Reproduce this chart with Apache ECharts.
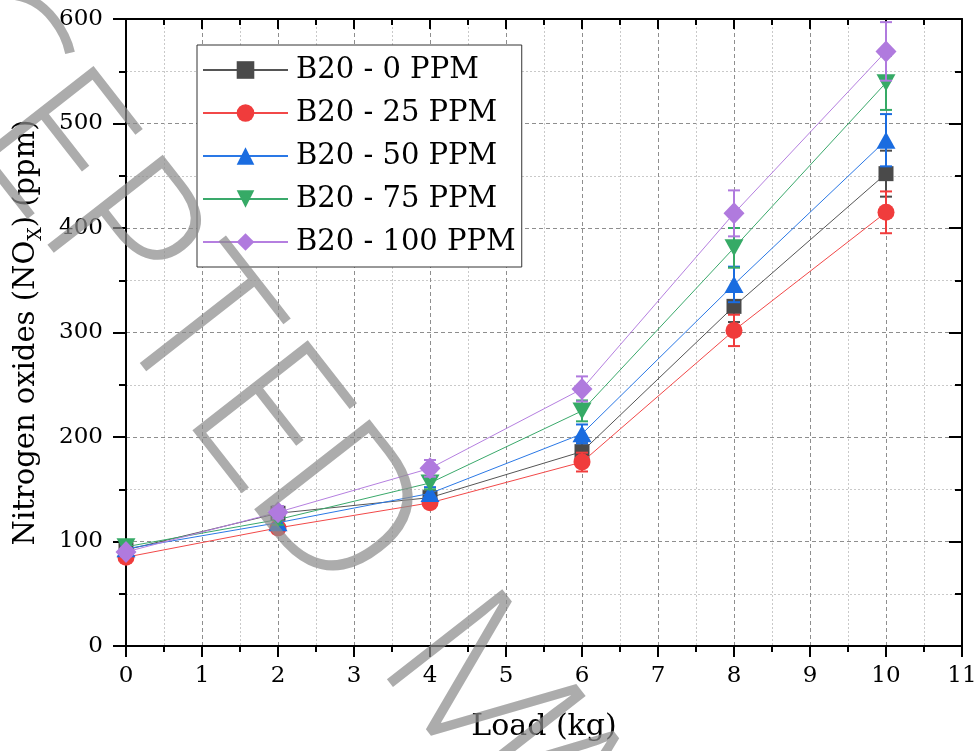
<!DOCTYPE html>
<html><head><meta charset="utf-8">
<script src="https://cdn.jsdelivr.net/npm/echarts@6/dist/echarts.min.js"></script>
<style>html,body{margin:0;padding:0;background:#fff}#c{width:977px;height:751px}</style>
</head><body><div id="c"></div>
<script>
// ---- data ----
const loads = [0, 2, 4, 6, 8, 10];
const seriesNames = ['B20 - 0 PPM', 'B20 - 25 PPM', 'B20 - 50 PPM', 'B20 - 75 PPM', 'B20 - 100 PPM'];
const nox0   = [92, 127, 142, 186, 325, 452];
const nox25  = [85, 113, 137, 176, 302, 415];
const nox50  = [93, 118, 146, 203, 346, 484];
const nox75  = [95, 121, 156, 225, 381, 539];
const nox100 = [90, 128, 170, 246, 414, 569];
const err0   = [4, 5, 5, 8, 15, 22];
const err25  = [4, 5, 5, 9, 15, 20];
const err50  = [4, 5, 6, 9, 17, 25];
const err75  = [4, 5, 6, 10, 19, 26];
const err100 = [4, 6, 8, 12, 22, 28];
const xTickLabels = ['0','1','2','3','4','5','6','7','8','9','10','11'];
const yTickLabels = ['0','100','200','300','400','500','600'];
const watermarkWords = ['ACCEPTED', 'MANUSCRIPT'];

// ---- styles ----
const values = [nox0, nox25, nox50, nox75, nox100];
const errors = [err0, err25, err50, err75, err100];
const markerColors = ['#4a4a4a', '#f03c3c', '#1a6ce0', '#36aa66', '#b07ade'];
const lineColors   = ['#555555', '#f24848', '#2a78e6', '#3aa96b', '#b57fe0'];
const symbols = ['rect', 'circle', 'triangle', 'triangle', 'diamond'];
const symbolSizes = [15, 17, [19, 17], [19, 17], [21, 22]];
const symbolRotates = [0, 0, 0, 180, 0];
const serif = 'DejaVu Serif';

const xMin = Number(xTickLabels[0]), xMax = Number(xTickLabels[xTickLabels.length - 1]);
const yMin = Number(yTickLabels[0]), yMax = Number(yTickLabels[yTickLabels.length - 1]);
const yInterval = Number(yTickLabels[1]) - Number(yTickLabels[0]);

function errRenderer(color) {
  return function (params, api) {
    const x = api.value(0), y = api.value(1), e = api.value(2);
    const top = api.coord([x, y + e]), bot = api.coord([x, y - e]);
    const w = 6;
    const st = { stroke: color, lineWidth: 2 };
    return { type: 'group', children: [
      { type: 'line', shape: { x1: top[0], y1: top[1], x2: bot[0], y2: bot[1] }, style: st },
      { type: 'line', shape: { x1: top[0] - w, y1: top[1], x2: top[0] + w, y2: top[1] }, style: st },
      { type: 'line', shape: { x1: bot[0] - w, y1: bot[1], x2: bot[0] + w, y2: bot[1] }, style: st }
    ]};
  };
}

const series = [];
seriesNames.forEach((name, i) => {
  series.push({
    name: 'err' + i, type: 'custom', xAxisIndex: 0, yAxisIndex: 0,
    renderItem: errRenderer(markerColors[i]), z: 2 + i * 2,
    data: loads.map((x, k) => [x, values[i][k], errors[i][k]]),
    silent: true
  });
  series.push({
    name: name, type: 'line', xAxisIndex: 0, yAxisIndex: 0,
    data: loads.map((x, k) => [x, values[i][k]]),
    symbol: symbols[i], symbolSize: symbolSizes[i], symbolRotate: symbolRotates[i],
    itemStyle: { color: markerColors[i], borderWidth: 0 },
    lineStyle: { color: lineColors[i], width: 1 },
    z: 3 + i * 2
  });
});

const tickStyle = { color: '#000', width: 2 };
const axisLineStyle = { show: true, onZero: false, lineStyle: { color: '#000', width: 2 } };
const majorSplit = { show: true, lineStyle: { color: '#8e8e8e', type: [4, 3], width: 1 } };
const minorSplit = { show: true, lineStyle: { color: '#c9c9c9', type: [2, 2], width: 1 } };

// watermark letters (decorative text)
const wmAngle = 52 * Math.PI / 180;
const wmDir = [Math.cos(wmAngle), Math.sin(wmAngle)];
const wmAnchor = [332, 514];   // centre of the 'D'
const wmPitch = 116;
const wmText = watermarkWords.join(' ');
const graphics = [];
for (let i = 0; i < wmText.length; i++) {
  const ch = wmText[i];
  if (ch === ' ') continue;
  const d = (i - 7) * wmPitch;
  graphics.push({
    type: 'text', x: wmAnchor[0] + d * wmDir[0], y: wmAnchor[1] + d * wmDir[1],
    rotation: -wmAngle, z: 100, silent: true,
    style: { text: ch, fontSize: 205, fontFamily: 'Open Sans', fontWeight: 300,
             fill: 'rgba(140,140,140,0.72)', align: 'center', verticalAlign: 'middle' }
  });
}

const chart = echarts.init(document.getElementById('c'), null, { renderer: 'canvas' });
chart.setOption({
  animation: false,
  backgroundColor: '#fff',
  grid: { left: 126, right: 15, top: 19, bottom: 105, outerBoundsMode: 'none' },
  legend: {
    data: seriesNames, orient: 'vertical', left: 197, top: 45,
    itemWidth: 85, itemHeight: 22, itemGap: 13,
    padding: [10, 6, 10, 5],
    backgroundColor: '#fff', borderColor: '#333', borderWidth: 1,
    textStyle: { fontFamily: serif, fontSize: 29, color: '#000', lineHeight: 30, padding: [0, 0, 0, 3] },
    z: 20
  },
  xAxis: [{
    type: 'value', min: xMin, max: xMax, interval: 1, position: 'bottom',
    axisLine: axisLineStyle,
    axisTick: { show: true, inside: false, length: 11, lineStyle: tickStyle },
    minorTick: { show: true, splitNumber: 2, length: 6, lineStyle: tickStyle },
    splitLine: majorSplit, minorSplitLine: minorSplit,
    axisLabel: { margin: 19, fontFamily: serif, fontSize: 23, color: '#000',
                 formatter: v => xTickLabels[Math.round(v)] },
    name: 'Load (kg)', nameLocation: 'middle', nameGap: 66,
    nameTextStyle: { fontFamily: serif, fontSize: 30, color: '#000' }
  }, {
    type: 'value', min: xMin, max: xMax, interval: 1, position: 'top',
    axisLine: axisLineStyle,
    axisTick: { show: true, inside: true, length: 10, lineStyle: tickStyle },
    minorTick: { show: true, splitNumber: 2, length: 6, lineStyle: tickStyle },
    splitLine: { show: false }, axisLabel: { show: false }
  }],
  yAxis: [{
    type: 'value', min: yMin, max: yMax, interval: yInterval, position: 'left',
    axisLine: axisLineStyle,
    axisTick: { show: true, inside: false, length: 13, lineStyle: tickStyle },
    minorTick: { show: true, splitNumber: 2, length: 7, lineStyle: tickStyle },
    splitLine: majorSplit, minorSplitLine: minorSplit,
    axisLabel: { margin: 23, fontFamily: serif, fontSize: 23, color: '#000',
                 formatter: v => yTickLabels[Math.round(v / yInterval)] },
    name: 'Nitrogen oxides (NO{sub|X}) (ppm)', nameLocation: 'middle', nameGap: 80,
    nameTextStyle: { fontFamily: serif, fontSize: 29, color: '#000', lineHeight: 40,
      rich: { sub: { fontFamily: serif, fontSize: 19, color: '#000', lineHeight: 20, verticalAlign: 'bottom' } } }
  }, {
    type: 'value', min: yMin, max: yMax, interval: yInterval, position: 'right',
    axisLine: axisLineStyle,
    axisTick: { show: true, inside: true, length: 13, lineStyle: tickStyle },
    minorTick: { show: true, splitNumber: 2, length: 7, lineStyle: tickStyle },
    splitLine: { show: false }, axisLabel: { show: false }
  }],
  series: series,
  graphic: graphics
});
</script>
</body></html>
